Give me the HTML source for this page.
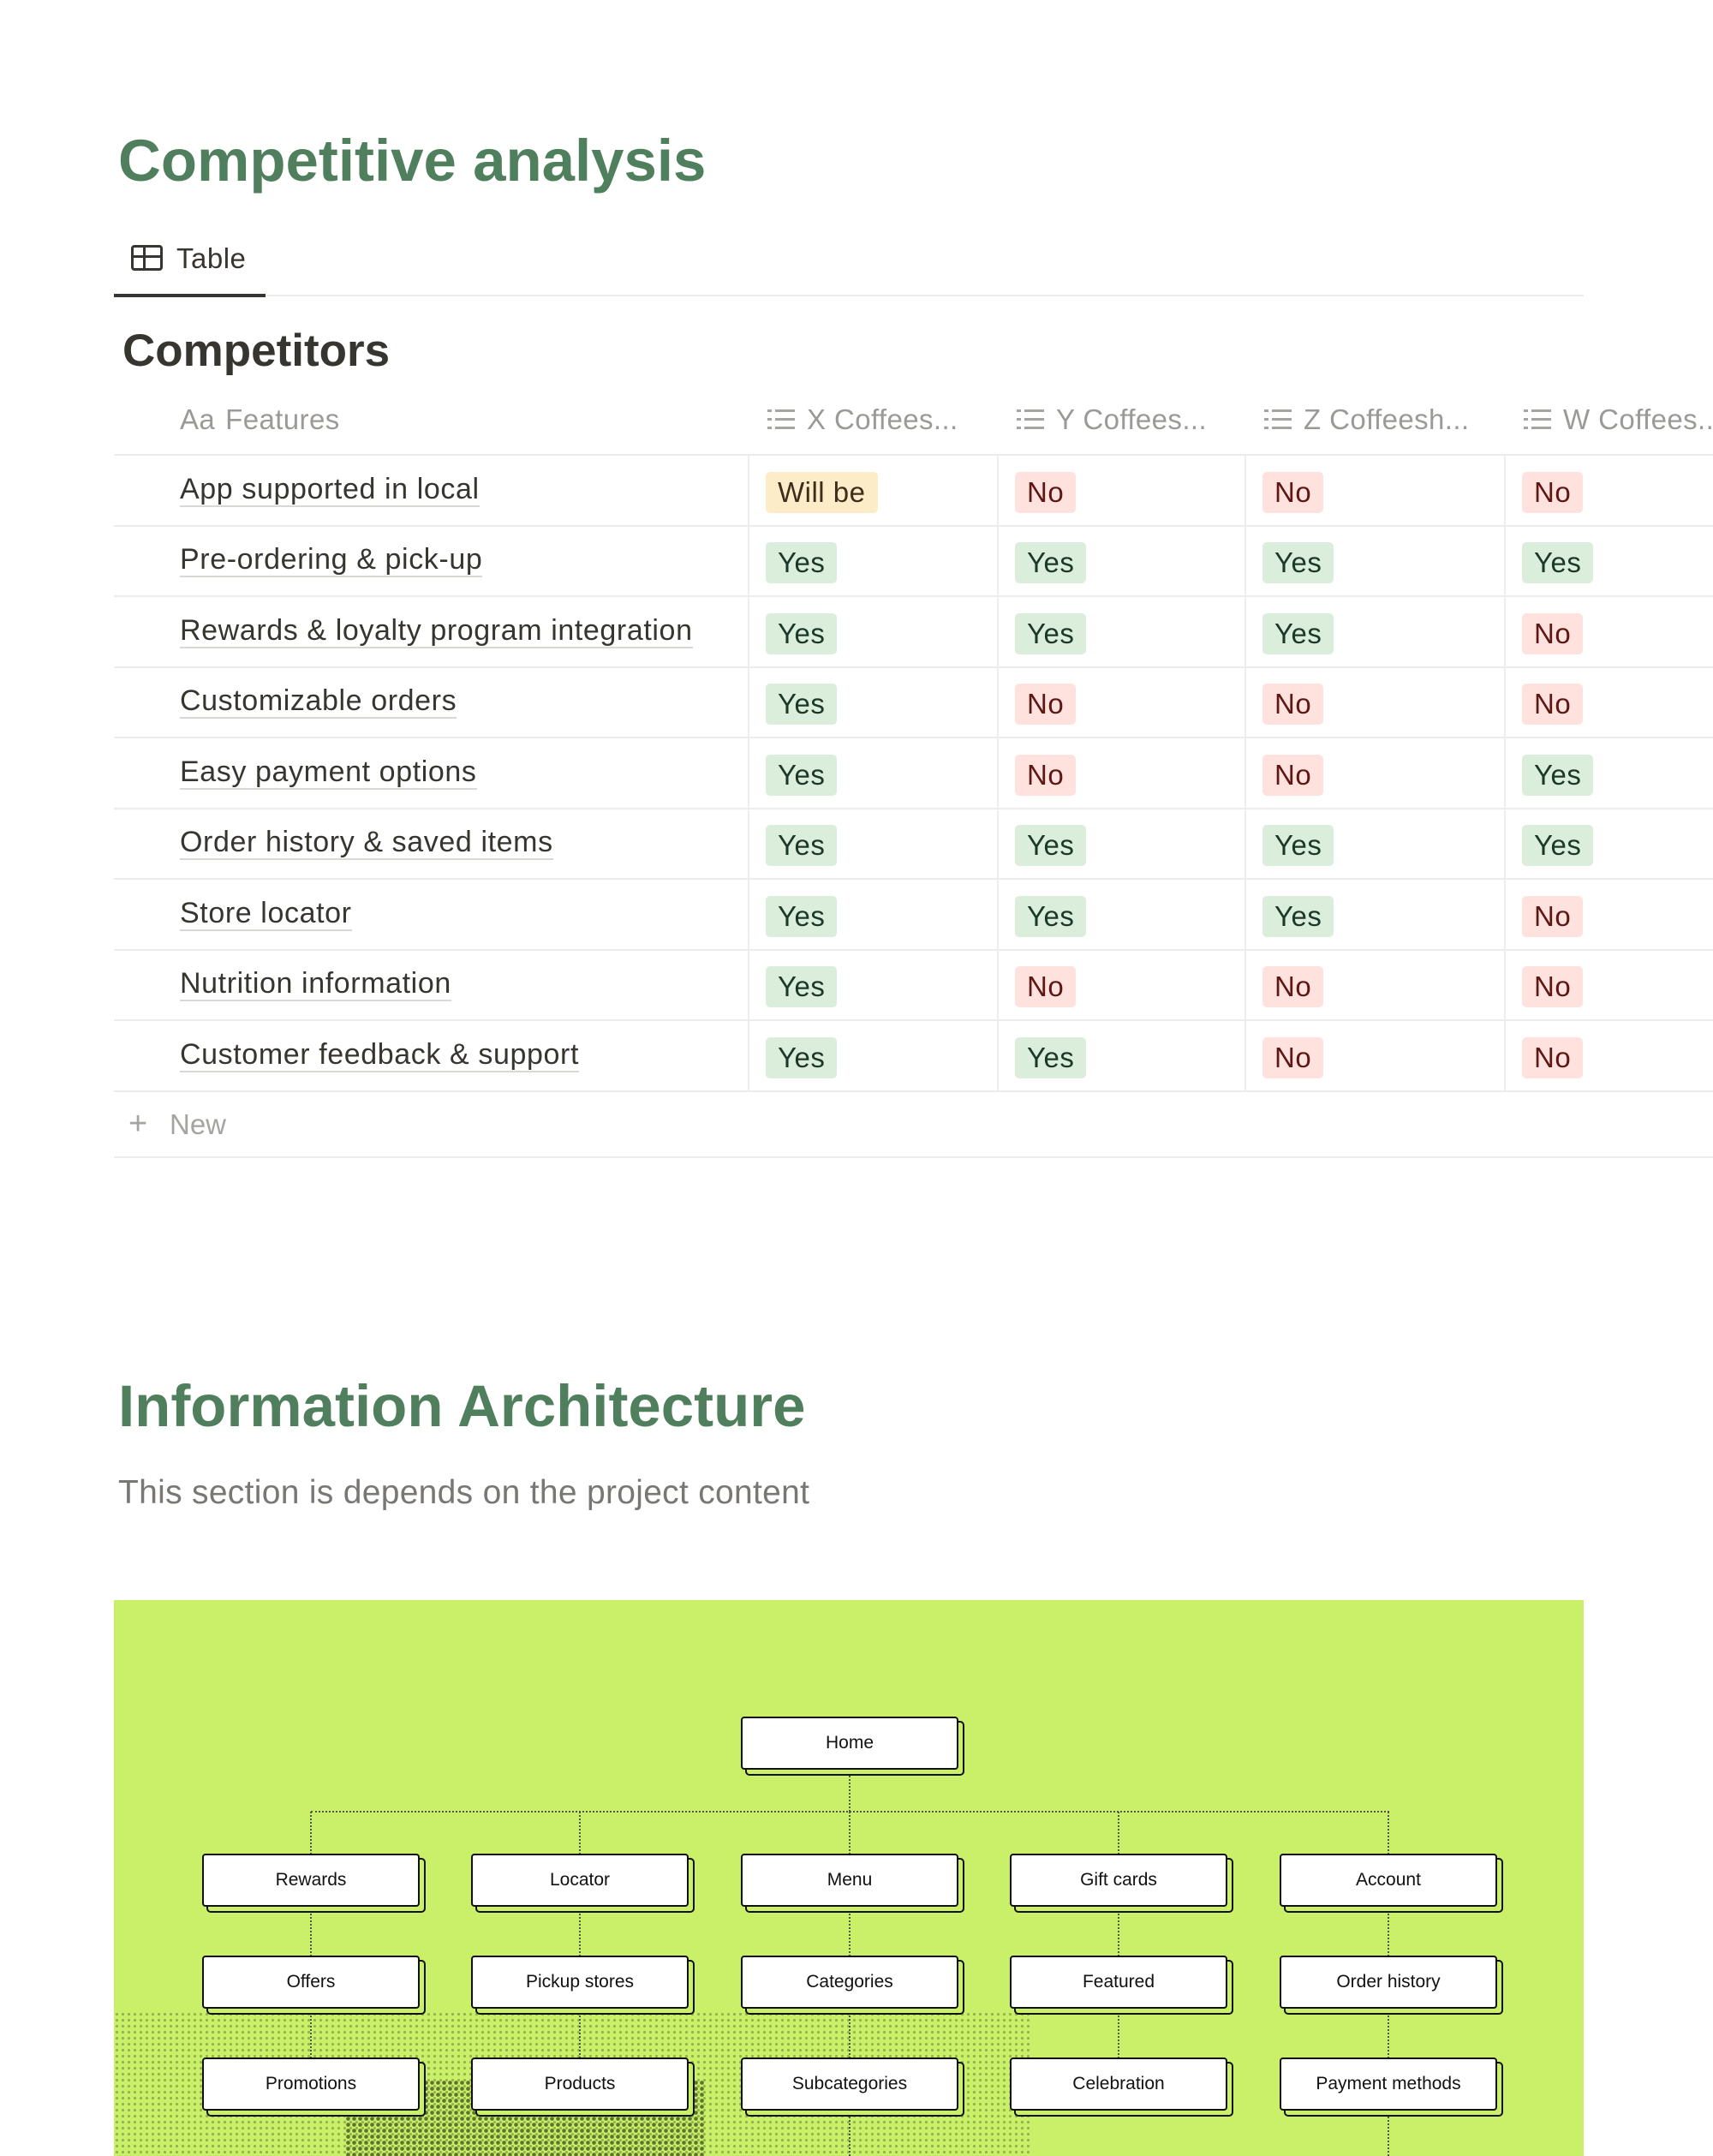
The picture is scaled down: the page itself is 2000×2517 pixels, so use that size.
<!DOCTYPE html>
<html><head><meta charset="utf-8"><style>
*{margin:0;padding:0;box-sizing:border-box}
body{width:2000px;height:2517px;background:#fff;position:relative;overflow:hidden;font-family:"Liberation Sans",sans-serif;color:#37352f}
.a{position:absolute;white-space:nowrap}
h1{position:absolute;left:138px;font-size:69px;font-weight:bold;color:#4f7f5c;white-space:nowrap}
.hl{position:absolute;height:2px;background:#ececea}
.vl{position:absolute;width:2px;background:#eeeeec;top:532px;height:741px}
.feat{position:absolute;left:210px;font-size:34px;letter-spacing:0.6px;color:#37352f;border-bottom:2px solid #d9d8d5;line-height:38px;white-space:nowrap}
.tag{position:absolute;height:48px;line-height:48px;padding:0 14px;border-radius:5px;font-size:33px;letter-spacing:0.5px}
.y{background:#dbeddb;color:#1c3829}
.n{background:#ffe2dd;color:#5d1715}
.w{background:#fdecc8;color:#402c1b}
.hd{position:absolute;top:470px;font-size:33px;letter-spacing:0.4px;color:#9b9a97;line-height:40px;white-space:nowrap}
.ic{display:inline-block;width:32px;height:24px;vertical-align:middle;margin-right:14px;position:relative;top:-3px;
background:linear-gradient(#a5a4a0,#a5a4a0) 0 1px/5px 3px no-repeat,linear-gradient(#a5a4a0,#a5a4a0) 9px 1px/23px 3px no-repeat,
linear-gradient(#a5a4a0,#a5a4a0) 0 11px/5px 3px no-repeat,linear-gradient(#a5a4a0,#a5a4a0) 9px 11px/23px 3px no-repeat,
linear-gradient(#a5a4a0,#a5a4a0) 0 21px/5px 3px no-repeat,linear-gradient(#a5a4a0,#a5a4a0) 9px 21px/23px 3px no-repeat}
.bx{position:absolute;width:254px;height:62px;background:#fff;border:2px solid #111;border-radius:4px;box-shadow:6px 6px 0 -1px #caf06a,6px 6px 0 1px #111;font-size:21px;text-align:center;line-height:58px;color:#111}
.dv{position:absolute;border-left:2px dotted #555;width:0}
</style></head><body>
<h1 style="top:148px">Competitive analysis</h1>
<div class="a" style="left:153px;top:286px;width:37px;height:30px;border:3px solid #37352f;border-radius:4px;background:linear-gradient(#37352f,#37352f) 0 9px/100% 3px no-repeat,linear-gradient(#37352f,#37352f) 11px 0/3px 100% no-repeat"></div>
<div class="a" style="left:206px;top:282px;font-size:33px;letter-spacing:0.5px;line-height:40px">Table</div>
<div class="hl" style="left:133px;top:344px;width:1716px"></div>
<div class="a" style="left:133px;top:343px;width:177px;height:4px;background:#37352f"></div>
<div class="a" style="left:143px;top:378px;font-size:53px;font-weight:bold;line-height:64px">Competitors</div>
<div class="hd" style="left:210px"><span style="margin-right:12px">Aa</span>Features</div>
<div class="hd" style="left:896px"><span class="ic"></span>X Coffees...</div>
<div class="hd" style="left:1187px"><span class="ic"></span>Y Coffees...</div>
<div class="hd" style="left:1476px"><span class="ic"></span>Z Coffeesh...</div>
<div class="hd" style="left:1779px"><span class="ic"></span>W Coffees...</div>
<div class="hl" style="left:133px;top:530px;width:1867px"></div>
<div class="hl" style="left:133px;top:613px;width:1867px"></div>
<div class="hl" style="left:133px;top:695px;width:1867px"></div>
<div class="hl" style="left:133px;top:778px;width:1867px"></div>
<div class="hl" style="left:133px;top:860px;width:1867px"></div>
<div class="hl" style="left:133px;top:943px;width:1867px"></div>
<div class="hl" style="left:133px;top:1025px;width:1867px"></div>
<div class="hl" style="left:133px;top:1108px;width:1867px"></div>
<div class="hl" style="left:133px;top:1190px;width:1867px"></div>
<div class="hl" style="left:133px;top:1273px;width:1867px"></div>
<div class="hl" style="left:133px;top:1350px;width:1867px"></div>
<div class="vl" style="left:873px"></div><div class="vl" style="left:1164px"></div><div class="vl" style="left:1453px"></div><div class="vl" style="left:1756px"></div>

<div class="feat" style="top:552px">App supported in local</div>
<div class="feat" style="top:634px">Pre-ordering &amp; pick-up</div>
<div class="feat" style="top:717px">Rewards &amp; loyalty program integration</div>
<div class="feat" style="top:799px">Customizable orders</div>
<div class="feat" style="top:882px">Easy payment options</div>
<div class="feat" style="top:964px">Order history &amp; saved items</div>
<div class="feat" style="top:1047px">Store locator</div>
<div class="feat" style="top:1129px">Nutrition information</div>
<div class="feat" style="top:1212px">Customer feedback &amp; support</div>

<div class="tag w" style="left:894px;top:551px">Will be</div><div class="tag n" style="left:1185px;top:551px">No</div><div class="tag n" style="left:1474px;top:551px">No</div><div class="tag n" style="left:1777px;top:551px">No</div>
<div class="tag y" style="left:894px;top:633px">Yes</div><div class="tag y" style="left:1185px;top:633px">Yes</div><div class="tag y" style="left:1474px;top:633px">Yes</div><div class="tag y" style="left:1777px;top:633px">Yes</div>
<div class="tag y" style="left:894px;top:716px">Yes</div><div class="tag y" style="left:1185px;top:716px">Yes</div><div class="tag y" style="left:1474px;top:716px">Yes</div><div class="tag n" style="left:1777px;top:716px">No</div>
<div class="tag y" style="left:894px;top:798px">Yes</div><div class="tag n" style="left:1185px;top:798px">No</div><div class="tag n" style="left:1474px;top:798px">No</div><div class="tag n" style="left:1777px;top:798px">No</div>
<div class="tag y" style="left:894px;top:881px">Yes</div><div class="tag n" style="left:1185px;top:881px">No</div><div class="tag n" style="left:1474px;top:881px">No</div><div class="tag y" style="left:1777px;top:881px">Yes</div>
<div class="tag y" style="left:894px;top:963px">Yes</div><div class="tag y" style="left:1185px;top:963px">Yes</div><div class="tag y" style="left:1474px;top:963px">Yes</div><div class="tag y" style="left:1777px;top:963px">Yes</div>
<div class="tag y" style="left:894px;top:1046px">Yes</div><div class="tag y" style="left:1185px;top:1046px">Yes</div><div class="tag y" style="left:1474px;top:1046px">Yes</div><div class="tag n" style="left:1777px;top:1046px">No</div>
<div class="tag y" style="left:894px;top:1128px">Yes</div><div class="tag n" style="left:1185px;top:1128px">No</div><div class="tag n" style="left:1474px;top:1128px">No</div><div class="tag n" style="left:1777px;top:1128px">No</div>
<div class="tag y" style="left:894px;top:1211px">Yes</div><div class="tag y" style="left:1185px;top:1211px">Yes</div><div class="tag n" style="left:1474px;top:1211px">No</div><div class="tag n" style="left:1777px;top:1211px">No</div>

<div class="a" style="left:150px;top:1290px;font-size:38px;color:#a5a4a0;line-height:44px">+</div>
<div class="a" style="left:198px;top:1293px;font-size:33px;color:#a5a4a0;line-height:40px">New</div>

<h1 style="top:1602px">Information Architecture</h1>
<div class="a" style="left:138px;top:1720px;font-size:39px;letter-spacing:0.3px;color:#787774;line-height:46px">This section is depends on the project content</div>

<div class="a" style="left:133px;top:1868px;width:1716px;height:649px;background:#caf06a;overflow:hidden">
 <div class="a" style="left:0;top:480px;width:1070px;height:170px;background-image:radial-gradient(circle,#6d8a36 1.4px,transparent 1.8px);background-size:7px 7px;opacity:.6"></div>
 <div class="a" style="left:270px;top:560px;width:420px;height:90px;background-image:radial-gradient(circle,#2f3d14 2px,transparent 2.6px);background-size:7px 7px;opacity:.7"></div>
</div>
<div class="dv" style="left:991px;top:2070px;height:45px"></div>
<div class="a" style="left:363px;top:2114px;width:1259px;border-top:2px dotted #555"></div>
<div class="dv" style="left:362px;top:2115px;height:50px"></div><div class="dv" style="left:676px;top:2115px;height:50px"></div><div class="dv" style="left:991px;top:2115px;height:50px"></div><div class="dv" style="left:1305px;top:2115px;height:50px"></div><div class="dv" style="left:1620px;top:2115px;height:50px"></div>
<div class="dv" style="left:362px;top:2230px;height:54px"></div><div class="dv" style="left:676px;top:2230px;height:54px"></div><div class="dv" style="left:991px;top:2230px;height:54px"></div><div class="dv" style="left:1305px;top:2230px;height:54px"></div><div class="dv" style="left:1620px;top:2230px;height:54px"></div>
<div class="dv" style="left:362px;top:2349px;height:54px"></div><div class="dv" style="left:676px;top:2349px;height:54px"></div><div class="dv" style="left:991px;top:2349px;height:54px"></div><div class="dv" style="left:1305px;top:2349px;height:54px"></div><div class="dv" style="left:1620px;top:2349px;height:54px"></div>
<div class="dv" style="left:991px;top:2468px;height:49px"></div><div class="dv" style="left:1620px;top:2468px;height:49px"></div>

<div class="bx" style="left:865px;top:2004px">Home</div>
<div class="bx" style="left:236px;top:2164px">Rewards</div><div class="bx" style="left:550px;top:2164px">Locator</div><div class="bx" style="left:865px;top:2164px">Menu</div><div class="bx" style="left:1179px;top:2164px">Gift cards</div><div class="bx" style="left:1494px;top:2164px">Account</div>
<div class="bx" style="left:236px;top:2283px">Offers</div><div class="bx" style="left:550px;top:2283px">Pickup stores</div><div class="bx" style="left:865px;top:2283px">Categories</div><div class="bx" style="left:1179px;top:2283px">Featured</div><div class="bx" style="left:1494px;top:2283px">Order history</div>
<div class="bx" style="left:236px;top:2402px">Promotions</div><div class="bx" style="left:550px;top:2402px">Products</div><div class="bx" style="left:865px;top:2402px">Subcategories</div><div class="bx" style="left:1179px;top:2402px">Celebration</div><div class="bx" style="left:1494px;top:2402px">Payment methods</div>
</body></html>
